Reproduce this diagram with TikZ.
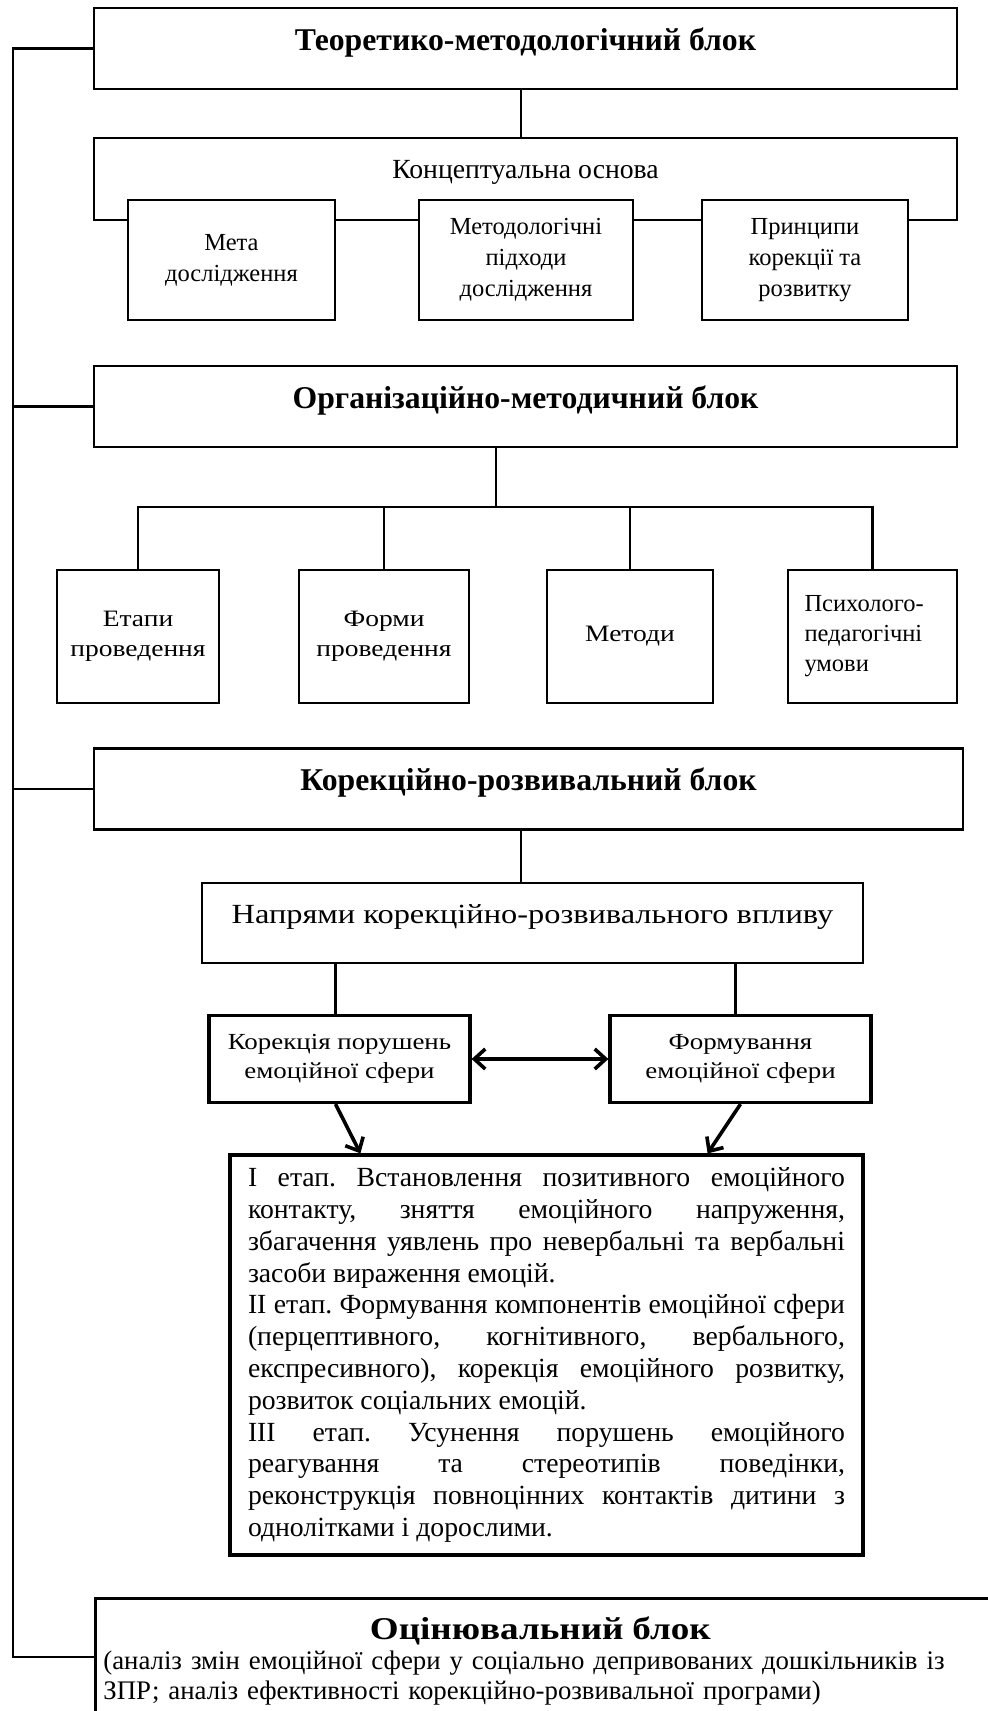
\documentclass[tikz,border=0pt]{standalone}
\usepackage{fontspec}
\setmainfont{Liberation Serif}
\newfontfamily\widefont{Liberation Serif}[FakeStretch=1.17]
\usetikzlibrary{arrows.meta}
\frenchspacing

\begin{document}
\begin{tikzpicture}[x=1pt, y=-1pt, >={Straight Barb[length=11pt, width=20pt]}]
   \useasboundingbox (0,0) rectangle (988,1711);
    % --- STYLES ---
    \tikzstyle{block} = [rectangle, draw=black, line width=2.8pt, fill=white, inner sep=0pt, text centered, minimum width=863pt, text height=42pt, text depth=39pt, font=\fontsize{31.7}{36}\selectfont\bfseries]
    \tikzstyle{basis} = [rectangle, draw=black, line width=2.8pt, inner sep=0pt, text centered, minimum width=863pt, text height=40pt, text depth=42pt, font=\fontsize{27.7}{32}\selectfont]
    \tikzstyle{piece} = [rectangle, draw=black, line width=2.8pt, fill=white, inner sep=0pt, align=center, minimum height=120pt, font=\fontsize{24.5}{31}\selectfont]
    \tikzstyle{tool} = [rectangle, draw=black, line width=2.8pt, fill=white, inner sep=0pt, align=center, minimum height=133pt, font=\widefont\fontsize{23.5}{30}\selectfont]
    \tikzstyle{course} = [rectangle, draw=black, line width=2.8pt, inner sep=0pt, text centered, minimum width=661pt, text height=40pt, text depth=40pt, font=\widefont\fontsize{27.7}{32}\selectfont]
    \tikzstyle{way} = [rectangle, draw=black, line width=3.2pt, inner sep=0pt, align=center, minimum width=261pt, minimum height=87pt, font=\widefont\fontsize{23}{29}\selectfont]
    \tikzstyle{stagebox} = [rectangle, draw=black, line width=3.2pt, inner xsep=18pt, inner ysep=0pt, text width=597pt, minimum height=400pt, align=justify, font=\fontsize{27.7}{31.8}\selectfont]
    \tikzstyle{assess} = [rectangle, draw=black, line width=2.8pt, anchor=north west, inner xsep=8pt, inner ysep=18pt, text width=900pt, font=\fontsize{26.8}{30}\selectfont]
    \tikzstyle{wire} = [line width=2.6pt]
    \tikzstyle{flow} = [line width=3.6pt]

    % --- NODES ---
    % theory block
    \node (teor)  [block] at (525.5, 48.5) {Теоретико-методологічний блок};
    \node (basis) [basis] at (525.5, 179) {Концептуальна основа};
    \node (meta)  [piece, minimum width=207pt] at (231.5, 260) {Мета\\дослідження};
    \node (pidkh) [piece, minimum width=214pt] at (526, 260) {Методологічні\\підходи\\дослідження};
    \node (pryn)  [piece, minimum width=206pt] at (805, 260) {Принципи\\корекції та\\розвитку};

    % organisation block
    \node (org)    [block] at (525.5, 406.5) {Організаційно-методичний блок};
    \coordinate (bus) at (496, 507);
    \node (etapy)  [tool, minimum width=162pt] at (138, 636.5) {Етапи\\проведення};
    \node (formy)  [tool, minimum width=170pt] at (384, 636.5) {Форми\\проведення};
    \node (metody) [tool, minimum width=166pt] at (630, 636.5) {Методи};
    \node (umovy)  [tool, minimum width=169pt, text width=136pt, align=left, font=\fontsize{24.5}{30}\selectfont] at (872.5, 636.5) {Психолого-\\педагогічні\\умови};

    % correction block
    \node (kor)    [block, minimum width=869pt] at (528.5, 789) {Корекційно-розвивальний блок};
    \node (napr)   [course] at (532.5, 923) {Напрями корекційно-розвивального впливу};
    \node (korek)  [way] at (339.5, 1059) {Корекція порушень\\емоційної сфери};
    \node (formuv) [way] at (740.5, 1059) {Формування\\емоційної сфери};
    \node (stages) [stagebox] at (546.5, 1355) {\hyphenpenalty=10000 \exhyphenpenalty=10000
      I етап. Встановлення позитивного емоційного\linebreak
      контакту, зняття емоційного напруження,\linebreak
      збагачення уявлень про невербальні та вербальні\linebreak
      засоби вираження емоцій.\par
      II етап. Формування компонентів емоційної сфери\linebreak
      (перцептивного, когнітивного, вербального,\linebreak
      експресивного), корекція емоційного розвитку,\linebreak
      розвиток соціальних емоцій.\par
      III етап. Усунення порушень емоційного\linebreak
      реагування та стереотипів поведінки,\linebreak
      реконструкція повноцінних контактів дитини з\linebreak
      однолітками і дорослими.};

    % evaluation block
    \node (assess) [assess] at (94, 1597) {\parbox{874pt}{\hyphenpenalty=10000 \exhyphenpenalty=10000
      {\centering\widefont\fontsize{31.7}{36}\selectfont\bfseries Оцінювальний блок\par}
      (аналіз змін емоційної сфери у соціально депривованих дошкільників із\linebreak
      ЗПР; аналіз ефективності корекційно-розвивальної програми)}};
    \coordinate (foot) at (13, 1657);

    % --- CONNECTORS ---
    \draw[wire] ([xshift=-4.5pt]teor.south) -- ([xshift=-4.5pt]basis.north);
    \draw[wire] (bus) -- (bus |- org.south);
    \foreach \n in {etapy, formy, metody, umovy}
      \draw[wire] (\n.north) |- (bus);
    \draw[wire] ([xshift=-7.5pt]kor.south) -- ([xshift=-7.5pt]kor.south |- napr.north);
    \draw[wire] ([xshift=-4pt]korek.north) -- ([xshift=-4pt]korek.north |- napr.south);
    \draw[wire] ([xshift=-5pt]formuv.north) -- ([xshift=-5pt]formuv.north |- napr.south);
    \draw[flow, <->] (korek) -- (formuv);
    \draw[flow, ->] ([xshift=-4pt]korek.south) -- ([xshift=132pt]stages.north west);
    \draw[flow, ->] (formuv.south) -- ([xshift=-157pt]stages.north east);

    % left rail
    \draw[wire] (teor.west) -| (foot) -- (foot -| assess.west);
    \draw[wire] (org.west) -- (org.west -| foot);
    \draw[wire] (kor.west) -- (kor.west -| foot);

\end{tikzpicture}
\end{document}
